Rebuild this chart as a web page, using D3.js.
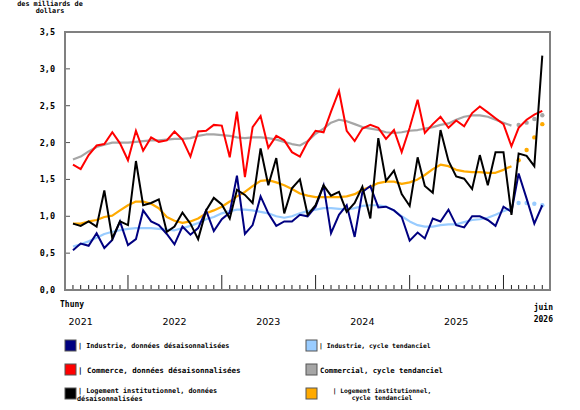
<!DOCTYPE html>
<html>
<head>
<meta charset="utf-8">
<script src="https://cdn.jsdelivr.net/npm/d3@7"></script>
<style>
  body { margin: 0; background: #fff; }
  svg { display: block; }
  .mono { font-family: "DejaVu Sans Mono", monospace; font-weight: bold; fill: #000; }
</style>
</head>
<body>
<div id="chart"></div>
<script>
// monthly values, juin 2021 to juin 2026
const firstMonth = new Date(2021, 5, 1);
const lastMonth = new Date(2026, 5, 1);

const industrie = [0.54, 0.63, 0.60, 0.77, 0.57, 0.68, 0.93, 0.61, 0.69, 1.08, 0.93, 0.88,
  0.76, 0.62, 0.86, 0.75, 0.84, 1.08, 0.80, 0.96, 1.05, 1.55, 0.76, 0.88,
  1.27, 1.04, 0.87, 0.93, 0.93, 1.02, 1.00, 1.13, 1.42, 0.77, 1.02, 1.15,
  0.72, 1.33, 1.41, 1.12, 1.13, 1.08, 0.99, 0.67, 0.78, 0.70, 0.97, 0.93,
  1.09, 0.88, 0.85, 1.00, 1.00, 0.95, 0.87, 1.13, 1.06, 1.58, 1.24, 0.90, 1.15];

const industrieTendance = [0.59, 0.62, 0.66, 0.71, 0.76, 0.79, 0.81, 0.83, 0.84, 0.84, 0.84, 0.83,
  0.82, 0.81, 0.84, 0.87, 0.91, 0.96, 0.99, 1.04, 1.07, 1.09, 1.09, 1.08,
  1.06, 1.04, 1.00, 0.98, 1.00, 1.04, 1.07, 1.09, 1.11, 1.11, 1.10, 1.09,
  1.11, 1.14, 1.15, 1.15, 1.13, 1.08, 1.00, 0.93, 0.88, 0.86, 0.86, 0.88,
  0.89, 0.89, 0.92, 0.95, 0.96, 0.98, 1.02, 1.07, 1.11, 1.18, 1.18, 1.17, 1.15];

const commerce = [1.70, 1.64, 1.83, 1.96, 1.98, 2.14, 1.99, 1.76, 2.16, 1.89, 2.07, 2.01,
  2.03, 2.15, 2.04, 1.81, 2.15, 2.16, 2.24, 2.23, 1.80, 2.42, 1.53, 2.21,
  2.36, 1.93, 2.09, 2.03, 1.87, 1.81, 2.01, 2.16, 2.14, 2.42, 2.70, 2.16,
  2.02, 2.19, 2.24, 2.20, 2.05, 2.17, 1.87, 2.20, 2.58, 2.13, 2.25, 2.35,
  2.20, 2.30, 2.22, 2.40, 2.49, 2.41, 2.33, 2.25, 1.95, 2.20, 2.31, 2.38, 2.43];

const commercialTendance = [1.77, 1.81, 1.88, 1.94, 1.97, 2.00, 2.00, 2.00, 2.01, 2.02, 2.03, 2.03,
  2.04, 2.05, 2.05, 2.06, 2.09, 2.11, 2.11, 2.10, 2.09, 2.07, 2.06, 2.07,
  2.07, 2.06, 2.04, 2.01, 1.98, 1.96, 2.02, 2.12, 2.19, 2.27, 2.31, 2.29,
  2.25, 2.21, 2.19, 2.17, 2.14, 2.13, 2.14, 2.16, 2.17, 2.19, 2.21, 2.24,
  2.26, 2.31, 2.35, 2.37, 2.37, 2.35, 2.31, 2.27, 2.23, 2.24, 2.27, 2.32, 2.37];

const logement = [0.90, 0.87, 0.93, 0.86, 1.35, 0.70, 0.93, 0.88, 1.75, 1.15, 1.18, 1.23,
  0.79, 0.86, 1.05, 0.90, 0.69, 1.08, 1.25, 1.16, 0.97, 1.36, 1.29, 1.18,
  1.92, 1.42, 1.79, 1.04, 1.38, 1.50, 1.02, 1.15, 1.42, 1.28, 1.33, 1.06,
  1.18, 1.40, 0.97, 2.06, 1.48, 1.62, 1.30, 1.14, 1.80, 1.41, 1.32, 2.17,
  1.75, 1.54, 1.51, 1.37, 1.83, 1.42, 1.87, 1.87, 1.02, 1.85, 1.82, 1.68, 3.18];

const logementTendance = [0.90, 0.90, 0.93, 0.95, 0.99, 1.01, 1.08, 1.15, 1.20, 1.20, 1.17, 1.11,
  0.99, 0.94, 0.91, 0.93, 0.97, 1.04, 1.08, 1.13, 1.20, 1.27, 1.33, 1.41,
  1.48, 1.49, 1.46, 1.42, 1.37, 1.31, 1.28, 1.26, 1.26, 1.26, 1.26, 1.27,
  1.30, 1.36, 1.40, 1.45, 1.47, 1.47, 1.44, 1.46, 1.50, 1.56, 1.64, 1.70,
  1.68, 1.63, 1.61, 1.60, 1.60, 1.59, 1.59, 1.63, 1.68, 1.76, 1.90, 2.07, 2.25];

// trend is drawn solid up to this month, dotted afterwards
const finTendanceSolide = new Date(2026, 1, 1);

const yTicks = [0, 0.5, 1.0, 1.5, 2.0, 2.5, 3.0, 3.5];
const yearLabels = [2021, 2022, 2023, 2024, 2025];

const mois = d3.timeMonth.range(firstMonth, d3.timeMonth.offset(lastMonth, 1));

const width = 580, height = 410;
const margin = {top: 32, right: 30, bottom: 120, left: 65};

const svg = d3.select("#chart").append("svg")
  .attr("width", width)
  .attr("height", height);

const x = d3.scaleTime()
  .domain([d3.timeMonth.offset(firstMonth, -1), d3.timeMonth.offset(lastMonth, 1)])
  .range([margin.left, width - margin.right]);

const y = d3.scaleLinear()
  .domain([0, 3.5])
  .range([height - margin.bottom, margin.top]);

const fmt = v => d3.format(".1f")(v).replace(".", ",");

// unit title
svg.append("text").attr("class", "mono")
  .attr("x", 50).attr("y", 6)
  .attr("text-anchor", "middle")
  .style("font-size", "6.8px")
  .text("des milliards de");
svg.append("text").attr("class", "mono")
  .attr("x", 50).attr("y", 13)
  .attr("text-anchor", "middle")
  .style("font-size", "6.8px")
  .text("dollars");

// y axis ticks + labels
svg.selectAll(".ytick").data(yTicks).enter().append("line")
  .attr("x1", margin.left).attr("x2", margin.left + 5)
  .attr("y1", d => y(d)).attr("y2", d => y(d))
  .attr("stroke", "#555").attr("stroke-width", 1);

svg.selectAll(".ylab").data(yTicks).enter().append("text")
  .attr("class", "mono")
  .attr("x", 55).attr("y", d => y(d) + 3)
  .attr("text-anchor", "end")
  .style("font-size", "8.5px")
  .text(fmt);

// x axis ticks: every month, longer ones in January
const tickMonths = d3.timeMonth.range(firstMonth, d3.timeMonth.offset(lastMonth, 1));
svg.selectAll(".xtick").data(tickMonths).enter().append("line")
  .attr("x1", d => x(d)).attr("x2", d => x(d))
  .attr("y1", y(0))
  .attr("y2", d => d.getMonth() === 0 ? y(0) - 15 : y(0) - 5)
  .attr("stroke", "#222").attr("stroke-width", 1);

// year labels
svg.selectAll(".year").data(yearLabels).enter().append("text")
  .attr("x", d => x(new Date(d, 6, 1)))
  .attr("y", 325)
  .attr("text-anchor", "middle")
  .style("font-family", "DejaVu Sans, sans-serif")
  .style("font-size", "9.5px")
  .text(d => d);

svg.append("text").attr("class", "mono")
  .attr("x", 60).attr("y", 307)
  .style("font-size", "8px")
  .text("Thuny");
svg.append("text").attr("class", "mono")
  .attr("x", 553).attr("y", 310)
  .attr("text-anchor", "end")
  .style("font-size", "8px")
  .text("juin");
svg.append("text").attr("class", "mono")
  .attr("x", 553).attr("y", 322)
  .attr("text-anchor", "end")
  .style("font-size", "8px")
  .text("2026");

// frame
svg.append("rect")
  .attr("x", margin.left).attr("y", margin.top)
  .attr("width", width - margin.left - margin.right)
  .attr("height", height - margin.top - margin.bottom)
  .attr("fill", "none")
  .attr("stroke", "#808080").attr("stroke-width", 2);

const line = d3.line()
  .x(d => x(d.date))
  .y(d => y(d.value));

const toPoints = values => values.map((v, i) => ({date: mois[i], value: v}));

function drawTrend(values, color) {
  const pts = toPoints(values);
  svg.append("path")
    .datum(pts.filter(d => d.date <= finTendanceSolide))
    .attr("d", line)
    .attr("fill", "none")
    .attr("stroke", color).attr("stroke-width", 2.2)
    .attr("stroke-linejoin", "round");
  svg.selectAll(null)
    .data(pts.filter(d => d.date > finTendanceSolide))
    .enter().append("circle")
    .attr("cx", d => x(d.date)).attr("cy", d => y(d.value))
    .attr("r", 2.2)
    .attr("fill", color);
}

function drawSeries(values, color) {
  svg.append("path")
    .datum(toPoints(values))
    .attr("d", line)
    .attr("fill", "none")
    .attr("stroke", color).attr("stroke-width", 2)
    .attr("stroke-linejoin", "miter");
}

drawTrend(industrieTendance, "#99ccff");
drawTrend(commercialTendance, "#a6a6a6");
drawTrend(logementTendance, "#ffaa00");
drawSeries(industrie, "#000080");
drawSeries(commerce, "#ff0000");
drawSeries(logement, "#000000");

// legend
function swatch(px, py, color) {
  svg.append("rect")
    .attr("x", px).attr("y", py)
    .attr("width", 11).attr("height", 11)
    .attr("fill", color)
    .attr("stroke", "#555").attr("stroke-width", 1);
}
function label(px, py, txt, size, anchor) {
  svg.append("text").attr("class", "mono")
    .attr("x", px).attr("y", py)
    .attr("text-anchor", anchor || "start")
    .style("font-size", size + "px")
    .text(txt);
}

swatch(65, 340, "#000080");
label(78, 348, "| Industrie, données désaisonnalisées", 6.8);
swatch(65, 364, "#ff0000");
label(78, 372.5, "| Commerce, données désaisonnalisées", 7.5);
swatch(65, 388, "#000000");
label(78, 393, "| Logement institutionnel, données", 6.8);
label(77, 400.5, "désaisonnalisées", 6.8);

swatch(306, 340, "#99ccff");
label(319, 347.5, "| Industrie, cycle tendanciel", 6.4);
swatch(306, 364, "#a6a6a6");
label(320, 372.5, "Commercial, cycle tendanciel", 7.3);
swatch(306, 388, "#ffaa00");
label(382, 392.5, "| Logement institutionnel,", 6.3, "middle");
label(382, 399.5, "cycle tendanciel", 6.3, "middle");
</script>
</body>
</html>
